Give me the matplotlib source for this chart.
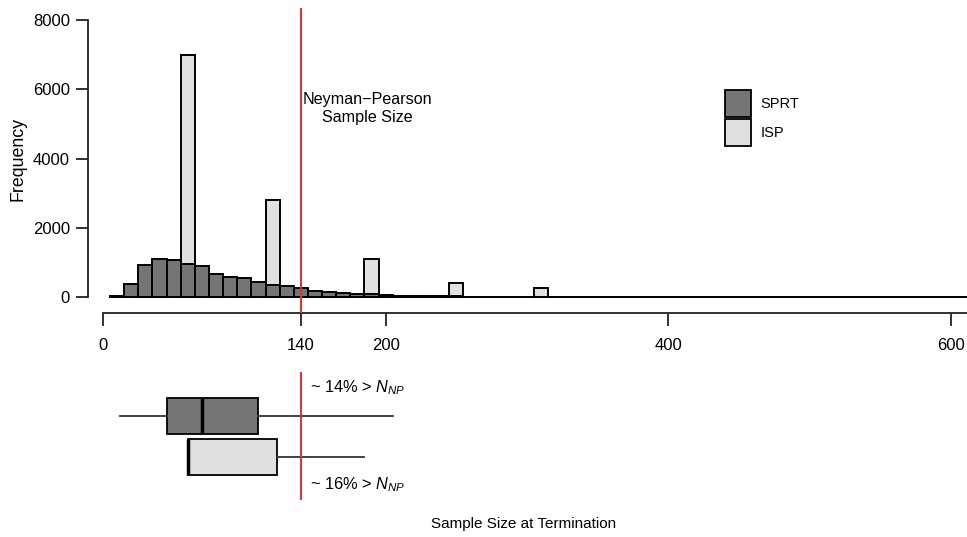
import numpy as np
import matplotlib
matplotlib.use("Agg")
import matplotlib.pyplot as plt
from matplotlib.patches import Patch

plt.rcParams["font.family"] = ["Liberation Sans", "DejaVu Sans"]
plt.rcParams["mathtext.fontset"] = "custom"
plt.rcParams["mathtext.rm"] = "Liberation Sans"
plt.rcParams["mathtext.it"] = "Liberation Sans:italic"

# Histogram bins (width 10, starting at 5)
bin_edges = np.arange(5, 625, 10)

# SPRT counts per bin
sprt_counts = [20, 380, 910, 1090, 1080, 965, 900, 660, 580, 560,
               425, 350, 310, 260, 180, 145, 120, 95, 78, 55,
               42, 32, 25, 20, 17, 14, 11, 9, 8, 6,
               5, 4, 4, 3, 3, 2, 2, 2, 1, 1,
               1, 1, 0, 0, 0, 0, 0, 0, 0, 0,
               0, 0, 0, 0, 0, 0, 0, 0, 0, 0, 0]

# ISP only stops at the interim looks
isp_centers = [60, 120, 190, 250, 310]
isp_counts = [6980, 2790, 1090, 410, 260]

# Boxplot summaries
box_stats = [
    dict(label="ISP", whislo=60, q1=60, med=60, q3=123, whishi=185),
    dict(label="SPRT", whislo=12, q1=45.5, med=70, q3=110, whishi=205),
]

n_np = 140
x_ticks = [0, 140, 200, 400, 600]
y_ticks = [0, 2000, 4000, 6000, 8000]

sprt_col = "#757575"
isp_col = "#e0e0e0"
red = "#d43a35"

fig = plt.figure(figsize=(9.67, 5.37), dpi=100)
W, H = 967, 537

# ---- histogram panel ----
ax = fig.add_axes([88 / W, 1 - 313 / H, 879 / W, 305 / H])
ax.bar(isp_centers, isp_counts, width=10, color=isp_col, edgecolor="black", linewidth=1.4)
ax.bar(bin_edges[:-1] + 5, sprt_counts, width=10, color=sprt_col, edgecolor="black", linewidth=1.4)
ax.axvline(n_np, color=red, linewidth=1.5, zorder=5)

ax.set_xlim(-10.6, 611.3)
ax.set_ylim(-462, 8347)
for s in ["top", "right"]:
    ax.spines[s].set_visible(False)
ax.spines["left"].set_bounds(0, 8000)
ax.spines["bottom"].set_bounds(0, 611.3)
for s in ["left", "bottom"]:
    ax.spines[s].set_linewidth(1.3)
    ax.spines[s].set_color("#222222")
ax.set_xticks(x_ticks)
ax.set_yticks(y_ticks)
ax.tick_params(axis="x", length=9, width=1.3, pad=9, labelsize=12, color="#222222")
ax.tick_params(axis="y", length=9, width=1.3, pad=4, labelsize=12, color="#222222")

ax.text(187, 5440, "Neyman\u2212Pearson\nSample Size", ha="center", va="center",
        fontsize=11.6, linespacing=1.3)

ax.legend(handles=[Patch(facecolor=sprt_col, edgecolor="black", linewidth=1.3, label="SPRT"),
                   Patch(facecolor=isp_col, edgecolor="black", linewidth=1.3, label="ISP")],
          loc="upper left", bbox_to_anchor=(725 / W, 1 - 90 / H), bbox_transform=fig.transFigure,
          frameon=False, fontsize=10.5, handlelength=1.8, handleheight=2.5,
          handletextpad=0.65, labelspacing=0.12, borderpad=0, borderaxespad=0)

fig.text(17.7 / W, 1 - 159 / H, "Frequency", rotation=90, ha="center", va="center", fontsize=12.8)

# ---- boxplot panel ----
ax2 = fig.add_axes([88 / W, 1 - 500 / H, 879 / W, 128 / H])
bp = ax2.bxp(box_stats, positions=[1, 2], vert=False, widths=0.88, patch_artist=True,
             showfliers=False, showcaps=False,
             boxprops=dict(edgecolor="black", linewidth=1.3),
             medianprops=dict(color="black", linewidth=2.5),
             whiskerprops=dict(color="#333333", linewidth=1.3))
bp["boxes"][0].set_facecolor(isp_col)
bp["boxes"][1].set_facecolor(sprt_col)
ax2.axvline(n_np, color=red, linewidth=1.5, zorder=5)
ax2.set_xlim(-10.6, 611.3)
ax2.set_ylim(-0.05, 3.07)
ax2.axis("off")

ax2.text(146.5, 2.68, "~ 14% > $N_{NP}$", va="center", ha="left", fontsize=11.8)
ax2.text(146.5, 0.32, "~ 16% > $N_{NP}$", va="center", ha="left", fontsize=11.8)

fig.text(524 / W, 1 - 524 / H, "Sample Size at Termination", ha="center", va="center", fontsize=11)

fig.savefig("out.png", dpi=100)
